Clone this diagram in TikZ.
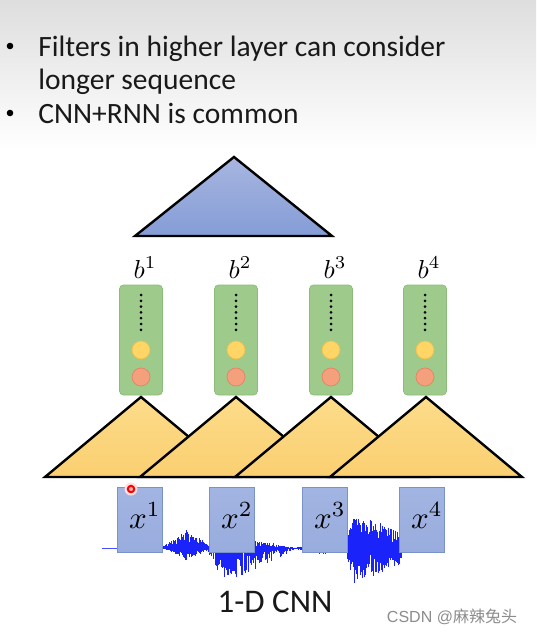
\documentclass[tikz,border=0pt]{standalone}
\usepackage[no-math]{fontspec}
\newfontfamily\calibri{Carlito}
\newfontfamily\arialfont{Liberation Sans}
\newfontfamily\cjk{Noto Sans CJK SC}
\usetikzlibrary{positioning}
\definecolor{cellfill}{RGB}{158,203,140}
\definecolor{cellline}{RGB}{140,188,122}
\definecolor{yelfill}{RGB}{255,214,102}
\definecolor{yelline}{RGB}{238,190,80}
\definecolor{salfill}{RGB}{245,160,125}
\definecolor{salline}{RGB}{228,132,100}
\definecolor{xfill}{RGB}{152,172,222}
\definecolor{xline}{RGB}{122,146,204}
\definecolor{wavec}{RGB}{25,35,250}
\tikzset{every picture/.style={line width=0.75pt}}
\tikzset{
  cell/.style={draw=cellline, fill=cellfill, rounded corners=4pt, minimum width=43pt, minimum height=110pt, inner sep=0pt},
  xbox/.style={draw=xline, top color=xfill!90!white, bottom color=xfill, minimum width=45pt, minimum height=65pt, inner sep=0pt},
  filter/.style={draw=black, line width=2.4pt, top color={rgb,255:red,253;green,220;blue,138}, bottom color={rgb,255:red,250;green,207;blue,112}},
  wave/.style={draw=wavec, line width=0.45pt},
  bullet/.style={font=\calibri\fontsize{29.5}{34}\selectfont, text=black!90, anchor=base west, inner sep=0pt},
}
\begin{document}
\begin{tikzpicture}[x=1pt,y=-1pt]
        \useasboundingbox (0,0) rectangle (536,636);
        \fill[white] (0,0) rectangle (536,636);
        \fill[top color=black!13, bottom color=white] (0,0) rectangle (536,150);
        % bullets
        \node[bullet] (t1) at (38,57) {Filters in higher layer can consider};
        \node[bullet] (t2) at (38,90) {longer sequence};
        \node[bullet] (t3) at (38,124) {CNN+RNN is common};
        \fill (10,46) circle (3.3);
        \fill (10,113) circle (3.3);
        %
        \filldraw[filter, top color={rgb,255:red,168;green,182;blue,224}, bottom color={rgb,255:red,132;green,156;blue,214}]
            (135,236) -- (234,157) -- (332,236) -- cycle;
        % cells
        \foreach \cx [count=\i] in {141,236,331,425} {
            \node[anchor=base, inner sep=0pt] (b\i) at (\cx+4,278) {\scalebox{2.6}{$b^{\i}$}};
            \node[cell] (c\i) at (\cx,340) {};
            \foreach \k in {0,...,6}
                \fill (\cx,295+\k*5.8) circle (1.5);
            \node[circle, draw=yelline, fill=yelfill, minimum size=18pt, inner sep=0pt] (y\i) at (\cx,350) {};
            \node[circle, draw=salline, fill=salfill, minimum size=18pt, inner sep=0pt] (r\i) at (\cx,377) {};
        }
        % filters
        \foreach \cx in {141,236,331,426}
            \filldraw[filter] (\cx-96,477) -- (\cx,397) -- (\cx+96,477) -- cycle;
        % waveform
        \pgfmathsetseed{11}
        \draw[wavec!80!white, line width=0.7pt] (102,548) -- (400,548);
        \foreach \wa/\wb/\up/\dn/\pk/\tl in {160/212/18/12/0.5/0.1, 206/294/14/37/0.18/0.05, 292/348/4/7/0.5/0.3, 345/401/36/37/0.15/0.45} {
            \foreach \n in {0,...,130} {
                \pgfmathsetmacro\tt{\n/130}
                \pgfmathsetmacro\env{min(\tt/\pk, 1-(1-\tl)*(\tt-\pk)/(1-\pk))}
                \pgfmathsetmacro\xx{\wa+(\wb-\wa)*\tt}
                \pgfmathsetmacro\hu{\up*\env*(0.2+0.8*rnd)}
                \pgfmathsetmacro\hd{\dn*\env*(0.2+0.8*rnd)}
                \draw[wave] (\xx,548-\hu) -- (\xx,548+\hd);
            }
        }
        % inputs
        \foreach \cx [count=\i] in {140,232,325,422} {
            \node[xbox] (x\i) at (\cx,519.5) {};
            \node[anchor=base, inner sep=0pt] (lx\i) at (\cx+5,528) {\scalebox{3.1}{$x^{\i}$}};
        }
        \fill[red!12] (131,489) circle (6.5);
        \draw[red, line width=2pt, fill=red!30] (131,489) circle (3.2);
        %
        \node[font=\calibri\fontsize{33}{36}\selectfont, anchor=base, text=black!90] (cap) at (275,612) {1-D CNN};
        \node[font=\fontsize{16}{18}\selectfont, anchor=base, text=black!45] (wm) at (452,622) {\arialfont CSDN @\cjk 麻辣兔头};
\end{tikzpicture}
\end{document}
